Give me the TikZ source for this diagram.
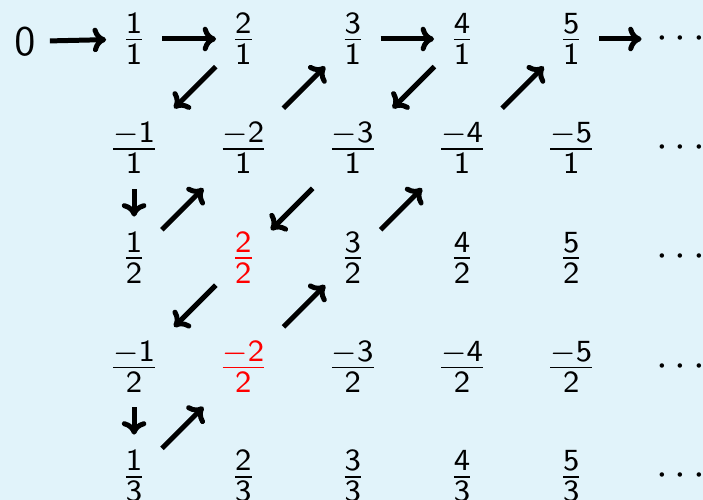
\documentclass[tikz,border=0pt]{standalone}
\usetikzlibrary{arrows.meta}
\definecolor{bgblue}{RGB}{225,243,250}
\newcommand\myconn[4]{\draw[arr,shorten <=#3cm,shorten >=#4cm] (#1.center) -- (#2.center);}
\begin{document}
\begin{tikzpicture}[
  lab/.style={inner sep=0pt, outer sep=0pt, font=\fontsize{10.95}{13.6}\selectfont},
  hot/.style={lab, text=red},
  arr/.style={line width=1.3pt, -{Computer Modern Rightarrow[length=3.5pt,width=6.4pt]}},
]
\fill[bgblue] (-0.2269,0.3568) rectangle (6.2050,-4.2178);
\useasboundingbox (-0.2269,0.3568) rectangle (6.2050,-4.2178);

% row 1
\node[lab] (z) at (0,-0.023) {$\mathsf{0}$};
\node[lab] (a1) at (1,0) {$\frac{\mathsf{1}}{\mathsf{1}}$};
\node[lab] (a2) at (2,0) {$\frac{\mathsf{2}}{\mathsf{1}}$};
\node[lab] (a3) at (3,0) {$\frac{\mathsf{3}}{\mathsf{1}}$};
\node[lab] (a4) at (4,0) {$\frac{\mathsf{4}}{\mathsf{1}}$};
\node[lab] (a5) at (5,0) {$\frac{\mathsf{5}}{\mathsf{1}}$};
\node[lab] (a6) at (6,0) {$\cdots$};
% row 2
\node[lab] (b1) at (1,-1) {$\frac{-\mathsf{1}}{\mathsf{1}}$};
\node[lab] (b2) at (2,-1) {$\frac{-\mathsf{2}}{\mathsf{1}}$};
\node[lab] (b3) at (3,-1) {$\frac{-\mathsf{3}}{\mathsf{1}}$};
\node[lab] (b4) at (4,-1) {$\frac{-\mathsf{4}}{\mathsf{1}}$};
\node[lab] (b5) at (5,-1) {$\frac{-\mathsf{5}}{\mathsf{1}}$};
\node[lab] (b6) at (6,-1) {$\cdots$};
% row 3
\node[lab] (c1) at (1,-2) {$\frac{\mathsf{1}}{\mathsf{2}}$};
\node[hot] (c2) at (2,-2) {$\frac{\mathsf{2}}{\mathsf{2}}$};
\node[lab] (c3) at (3,-2) {$\frac{\mathsf{3}}{\mathsf{2}}$};
\node[lab] (c4) at (4,-2) {$\frac{\mathsf{4}}{\mathsf{2}}$};
\node[lab] (c5) at (5,-2) {$\frac{\mathsf{5}}{\mathsf{2}}$};
\node[lab] (c6) at (6,-2) {$\cdots$};
% row 4
\node[lab] (d1) at (1,-3) {$\frac{-\mathsf{1}}{\mathsf{2}}$};
\node[hot] (d2) at (2,-3) {$\frac{-\mathsf{2}}{\mathsf{2}}$};
\node[lab] (d3) at (3,-3) {$\frac{-\mathsf{3}}{\mathsf{2}}$};
\node[lab] (d4) at (4,-3) {$\frac{-\mathsf{4}}{\mathsf{2}}$};
\node[lab] (d5) at (5,-3) {$\frac{-\mathsf{5}}{\mathsf{2}}$};
\node[lab] (d6) at (6,-3) {$\cdots$};
% row 5
\node[lab] (e1) at (1,-4) {$\frac{\mathsf{1}}{\mathsf{3}}$};
\node[lab] (e2) at (2,-4) {$\frac{\mathsf{2}}{\mathsf{3}}$};
\node[lab] (e3) at (3,-4) {$\frac{\mathsf{3}}{\mathsf{3}}$};
\node[lab] (e4) at (4,-4) {$\frac{\mathsf{4}}{\mathsf{3}}$};
\node[lab] (e5) at (5,-4) {$\frac{\mathsf{5}}{\mathsf{3}}$};
\node[lab] (e6) at (6,-4) {$\cdots$};

% horizontal arrows
\myconn{z}{a1}{0.23}{0.256}
\myconn{a1}{a2}{0.256}{0.25}
\myconn{a3}{a4}{0.256}{0.256}
\myconn{a5}{a6}{0.256}{0.357}
% rows 1-2
\myconn{a2}{b1}{0.357}{0.518}
\myconn{b2}{a3}{0.518}{0.357}
\myconn{a4}{b3}{0.357}{0.518}
\myconn{b4}{a5}{0.518}{0.357}
% rows 2-3
\myconn{b1}{c1}{0.375}{0.375}
\myconn{c1}{b2}{0.36}{0.518}
\myconn{b3}{c2}{0.518}{0.357}
\myconn{c3}{b4}{0.36}{0.518}
% rows 3-4
\myconn{c2}{d1}{0.357}{0.518}
\myconn{d2}{c3}{0.518}{0.357}
% rows 4-5
\myconn{d1}{e1}{0.37}{0.38}
\myconn{e1}{d2}{0.36}{0.518}
\end{tikzpicture}
\end{document}
